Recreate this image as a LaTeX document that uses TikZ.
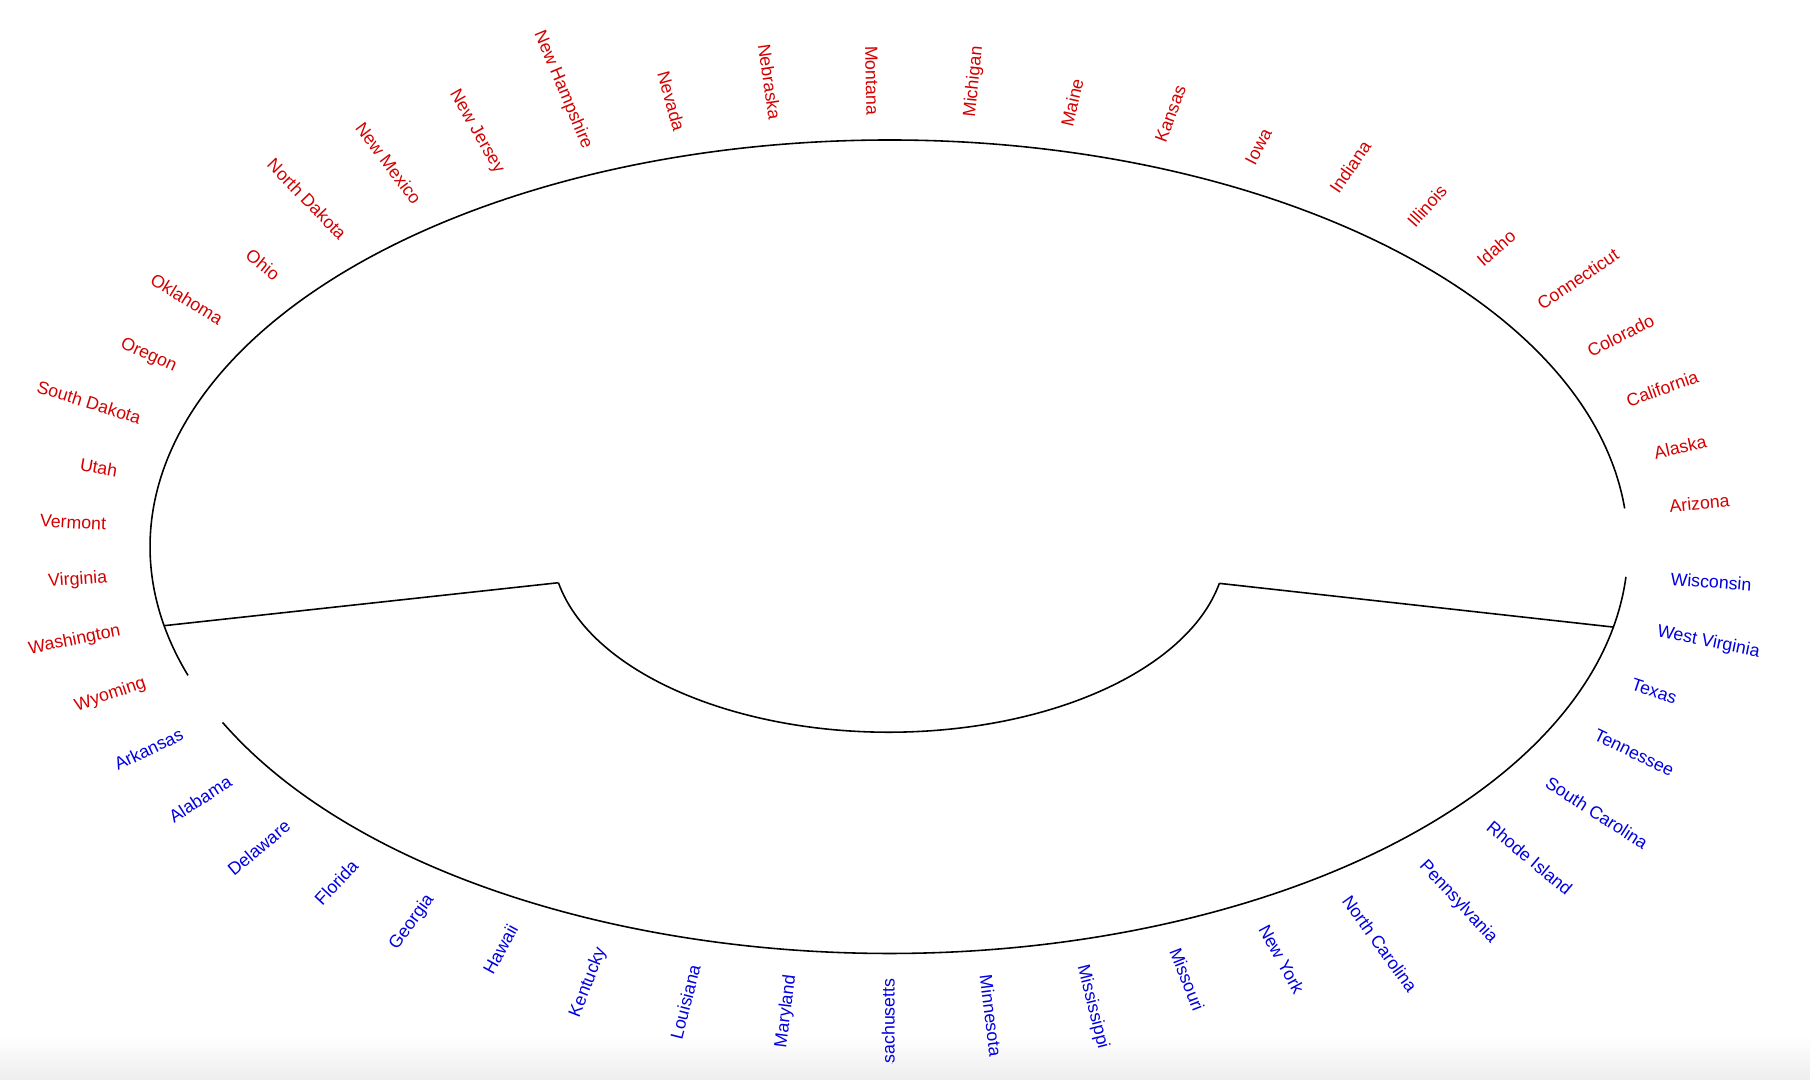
\documentclass[tikz,border=0pt]{standalone}
\usepackage{fontspec}
\setsansfont{Liberation Sans}
\usepackage{tikz}
\usepackage{xcolor}
\definecolor{redgrp}{RGB}{212,0,0}
\definecolor{bluegrp}{RGB}{0,0,225}

\begin{document}
\begin{tikzpicture}[
    branch/.style = {draw=black, line width=0.45pt},
    leaf/.style = {font=\sffamily\fontsize{5.05}{6}\selectfont, inner sep=0pt}
]
\useasboundingbox (-8.89,-5.333) rectangle (9.21,5.467);

% fade at the foot of the page
\shade[top color=white, bottom color=black!7] (-8.89,-4.9) rectangle (9.21,-5.333);

% Root and cluster nodes (leaf ellipse 7.39 x 4.067, root ellipse 3.37 x 1.855)
\coordinate (root_l) at (191.2:3.37cm and 1.855cm);
\coordinate (root_r) at (348.6:3.37cm and 1.855cm);
\coordinate (c_red) at (191.2:7.39cm and 4.067cm);
\coordinate (c_blue) at (348.6:7.39cm and 4.067cm);
\coordinate (red_first) at (5.4:7.39cm and 4.067cm);
\coordinate (blue_first) at (205.6:7.39cm and 4.067cm);

% Arcs
\draw [branch] (root_l) arc[start angle=191.2, end angle=348.6, x radius=3.37cm, y radius=1.855cm];
\draw [branch] (red_first) arc[start angle=5.4, end angle=198.45, x radius=7.39cm, y radius=4.067cm];
\draw [branch] (blue_first) arc[start angle=205.6, end angle=355.75, x radius=7.39cm, y radius=4.067cm];

% Connections
\draw [branch] (root_l) -- (c_red);
\draw [branch] (root_r) -- (c_blue);

% Leaves
\begin{scope}
\clip (-8.89,-5.163) rectangle (9.21,5.467);
\foreach \st [count=\i from 0] in {Arizona, Alaska, California, Colorado, Connecticut, Idaho, Illinois, Indiana, Iowa, Kansas, Maine, Michigan, Montana, Nebraska, Nevada, New Hampshire, New Jersey, New Mexico, North Dakota, Ohio, Oklahoma, Oregon, South Dakota, Utah, Vermont, Virginia, Washington, Wyoming, Arkansas, Alabama, Delaware, Florida, Georgia, Hawaii, Kentucky, Louisiana, Maryland, Massachusetts, Minnesota, Mississippi, Missouri, New York, North Carolina, Pennsylvania, Rhode Island, South Carolina, Tennessee, Texas, West Virginia, Wisconsin} {
    \pgfmathsetmacro\ang{5.4+7.15*\i}
    \pgfmathtruncatemacro\flip{(\ang>90) && (\ang<270)}
    \pgfmathtruncatemacro\isred{\i<28}
    \ifnum\flip=1 \def\anc{east}\pgfmathsetmacro\rot{\ang-180}\else \def\anc{west}\let\rot\ang\fi
    \ifnum\isred=1 \def\col{redgrp}\else \def\col{bluegrp}\fi
    \node [leaf, text=\col, anchor=\anc, rotate=\rot] (leaf\i) at (\ang:7.833cm and 4.311cm) {\st};
}
\end{scope}

\end{tikzpicture}
\end{document}
